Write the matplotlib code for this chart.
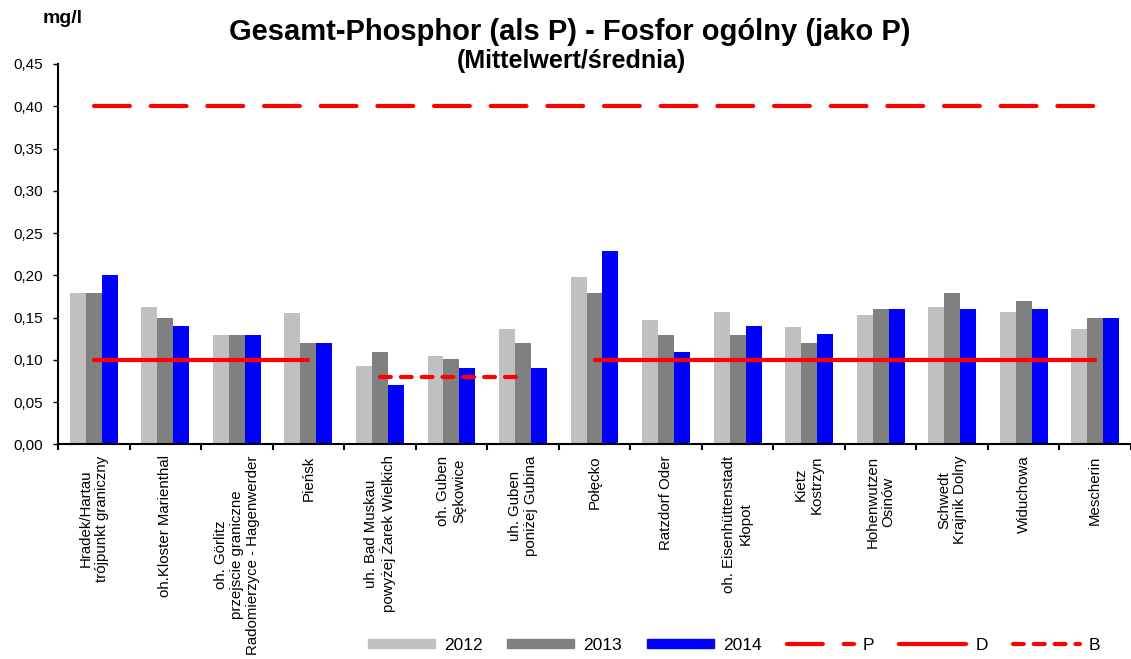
import matplotlib
matplotlib.use("Agg")
import matplotlib.pyplot as plt
from matplotlib.patches import Patch
from matplotlib.lines import Line2D
from matplotlib.ticker import FuncFormatter
import numpy as np

plt.rcParams['font.family'] = ['Liberation Sans', 'DejaVu Sans']

# station names (x axis)
stations = [
    "Hradek/Hartau\ntrójpunkt graniczny",
    "oh.Kloster Marienthal",
    "oh. Görlitz\nprzejscie graniczne\nRadomierzyce - Hagenwerder",
    "Pieńsk",
    "uh. Bad Muskau\npowyżej Żarek Wielkich",
    "oh. Guben\nSękowice",
    "uh. Guben\nponiżej Gubina",
    "Połęcko",
    "Ratzdorf Oder",
    "oh. Eisenhüttenstadt\nKłopot",
    "Kietz\nKostrzyn",
    "Hohenwutzen\nOsinów",
    "Schwedt\nKrajnik Dolny",
    "Widuchowa",
    "Mescherin",
]

# mean values, mg/l
v2012 = [0.179, 0.162, 0.129, 0.155, 0.093, 0.104, 0.136, 0.198, 0.147, 0.157, 0.139, 0.153, 0.163, 0.157, 0.137]
v2013 = [0.179, 0.150, 0.129, 0.120, 0.109, 0.101, 0.120, 0.179, 0.129, 0.129, 0.120, 0.160, 0.179, 0.170, 0.150]
v2014 = [0.200, 0.140, 0.129, 0.120, 0.070, 0.090, 0.090, 0.229, 0.109, 0.140, 0.130, 0.160, 0.160, 0.160, 0.150]

years = ["2012", "2013", "2014"]

# limit values and the station ranges they apply to (first, last index)
limit_P = 0.40
range_P = [(0, 14)]
limit_D = 0.10
range_D = [(0, 3), (7, 14)]
limit_B = 0.08
range_B = [(4, 6)]

bar_colors = ["#C0C0C0", "#808080", "#0000FF"]
red = "#FF0000"

fig = plt.figure(figsize=(11.31, 6.59), dpi=100)
ax = fig.add_axes([0.0513, 0.3258, 0.9487, 0.5771])

x = np.arange(len(stations))
w = 0.223
for i, (vals, c) in enumerate(zip([v2012, v2013, v2014], bar_colors)):
    ax.bar(x + (i - 1) * w, vals, width=w, color=c, linewidth=0, zorder=2)

p_style = dict(color=red, lw=3, dashes=(8.6, 5), dash_capstyle='round', zorder=3)
d_style = dict(color=red, lw=3, solid_capstyle='round', zorder=3)
b_style = dict(color=red, lw=3, dashes=(2.6, 2.4), dash_capstyle='round', zorder=3)

for a, b in range_P:
    ax.plot([a, b], [limit_P, limit_P], **p_style)
for a, b in range_D:
    ax.plot([a, b], [limit_D, limit_D], **d_style)
for a, b in range_B:
    ax.plot([a, b], [limit_B, limit_B], **b_style)

ax.set_xlim(-0.5, len(stations) - 0.5)
ax.set_ylim(0, 0.45)
ax.set_yticks(np.arange(0, 0.451, 0.05))
ax.yaxis.set_major_formatter(FuncFormatter(lambda v, _: f"{v:.2f}".replace(".", ",")))
ax.tick_params(axis='y', length=3.6, width=1, labelsize=11, pad=7)

ax.set_xticks(x)
ax.set_xticklabels(stations, rotation=90, fontsize=10.8, ha='center', va='top',
                   multialignment='center')
ax.tick_params(axis='x', length=0, pad=8)
ax.set_xticks(np.arange(-0.5, len(stations), 1), minor=True)
ax.tick_params(axis='x', which='minor', length=4, width=1.5)

for s in ['top', 'right']:
    ax.spines[s].set_visible(False)
for s in ['left', 'bottom']:
    ax.spines[s].set_linewidth(1.5)

fig.text(0.504, 0.951, "Gesamt-Phosphor (als P) - Fosfor ogólny (jako P)",
         ha='center', va='center', fontsize=21, fontweight='bold')
fig.text(0.505, 0.907, "(Mittelwert/średnia)",
         ha='center', va='center', fontsize=18, fontweight='bold')
fig.text(0.0557, 0.972, "mg/l", ha='center', va='center', fontsize=14, fontweight='bold')

handles = [Patch(color=c) for c in bar_colors]
handles += [Line2D([], [], **p_style), Line2D([], [], **d_style), Line2D([], [], **b_style)]
labels = years + ["P", "D", "B"]
fig.legend(handles, labels, loc='center', bbox_to_anchor=(0.649, 0.0212), ncol=6,
           frameon=False, fontsize=12.5, handlelength=3.86, handleheight=0.4,
           columnspacing=1.44, handletextpad=0.52, borderpad=0)

fig.savefig("out.png", dpi=100)
